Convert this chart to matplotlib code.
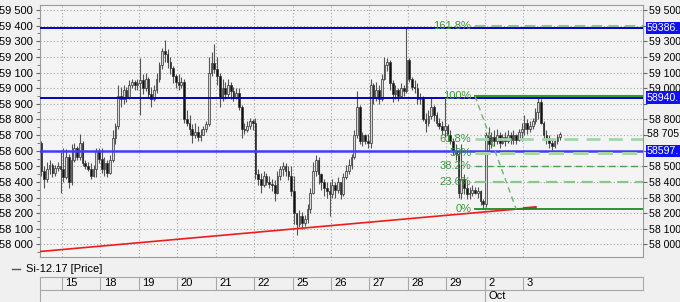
import matplotlib.pyplot as plt
import matplotlib.transforms as mtransforms
from matplotlib.lines import Line2D

plt.rcParams["font.family"] = ["Liberation Sans", "DejaVu Sans"]

# hourly bars, Si-12.17
day_labels = ["15", "18", "19", "20", "21", "22", "25", "26", "27", "28", "29", "2", "3"]
bars_per_day = [8, 14, 14, 14, 14, 14, 14, 14, 14, 14, 14, 14, 14, 14]
month_label = "Oct"
month_day = "2"

opens = [
    58650, 58470, 58420, 58480, 58510, 58460, 58490, 58500,
    58480, 58430, 58560, 58400, 58540, 58620, 58560, 58650, 58520, 58500, 58480, 58440, 58480, 58600,
    58550, 58480, 58520, 58460, 58540, 58680, 58760, 58950, 58930, 58990, 58940, 59020, 59040, 59020,
    59030, 59050, 59000, 59060, 58960, 58930, 58990, 59060, 59150, 59240, 59220, 59170, 59130, 59080,
    59040, 59020, 59040, 58800, 58780, 58740, 58700, 58720, 58690, 58700, 58740, 58770, 59100, 59160,
    59120, 59080, 58940, 59000, 58960, 59020, 58980, 58940, 58970, 58880, 58740, 58730, 58760, 58790,
    58780, 58450, 58420, 58380, 58440, 58400, 58390, 58380, 58330, 58440, 58480, 58500, 58470, 58440,
    58340, 58200, 58130, 58180, 58140, 58160, 58230, 58330, 58470, 58540, 58450, 58400, 58360, 58340,
    58320, 58380, 58350, 58400, 58320, 58430, 58470, 58510, 58560, 58700, 58880, 58660, 58700, 58660,
    58650, 59020, 58940, 58990, 58930, 59060, 59150, 59170, 59030, 58960, 58990, 58950, 59000, 58980,
    59180, 59060, 59010, 59000, 58930, 58940, 58800, 58780, 58820, 58880, 58830, 58780, 58760, 58730,
    58760, 58700, 58660, 58600, 58580, 58330, 58420, 58360, 58320, 58330, 58350, 58330, 58340, 58280,
    58260, 58700, 58640, 58690, 58660, 58700, 58650, 58690, 58660, 58700, 58670, 58700, 58670, 58720,
    58740, 58780, 58740, 58760, 58790, 58850, 58910, 58780, 58700, 58680, 58650, 58630, 58660, 58690,
]
closes = [
    58470, 58420, 58480, 58510, 58460, 58490, 58500, 58480,
    58430, 58560, 58400, 58540, 58620, 58560, 58650, 58520, 58500, 58480, 58440, 58480, 58600, 58550,
    58480, 58520, 58460, 58540, 58680, 58760, 58950, 58930, 58990, 58940, 59020, 59040, 59020, 59030,
    59050, 59000, 59060, 58960, 58930, 58990, 59060, 59150, 59240, 59220, 59170, 59130, 59080, 59040,
    59020, 59040, 58800, 58780, 58740, 58700, 58720, 58690, 58700, 58740, 58770, 59100, 59160, 59120,
    59080, 58940, 59000, 58960, 59020, 58980, 58940, 58970, 58880, 58740, 58730, 58760, 58790, 58780,
    58450, 58420, 58380, 58440, 58400, 58390, 58380, 58330, 58440, 58480, 58500, 58470, 58440, 58340,
    58200, 58130, 58180, 58140, 58160, 58230, 58330, 58470, 58540, 58450, 58400, 58360, 58340, 58320,
    58380, 58350, 58400, 58320, 58430, 58470, 58510, 58560, 58700, 58880, 58660, 58700, 58660, 58650,
    59020, 58940, 58990, 58930, 59060, 59150, 59170, 59030, 58960, 58990, 58950, 59000, 58980, 59180,
    59060, 59010, 59000, 58930, 58940, 58800, 58780, 58820, 58880, 58830, 58780, 58760, 58730, 58760,
    58700, 58660, 58600, 58580, 58330, 58420, 58360, 58320, 58330, 58350, 58330, 58340, 58280, 58260,
    58700, 58640, 58690, 58660, 58700, 58650, 58690, 58660, 58700, 58670, 58700, 58670, 58720, 58740,
    58780, 58740, 58760, 58790, 58850, 58910, 58780, 58700, 58680, 58650, 58630, 58660, 58690, 58705,
]
highs = [
    58660, 58500, 58530, 58540, 58520, 58510, 58530, 58590,
    58620, 58610, 58580, 58640, 58650, 58630, 58710, 58660, 58540, 58530, 58520, 58510, 58620, 58620,
    58620, 58560, 58540, 58570, 58730, 58780, 59020, 59010, 59020, 59010, 59050, 59060, 59050, 59060,
    59190, 59090, 59100, 59070, 59010, 59020, 59100, 59170, 59260, 59310, 59250, 59200, 59140, 59090,
    59090, 59070, 59060, 58860, 58830, 58770, 58780, 58760, 58740, 58760, 58790, 59200, 59230, 59280,
    59200, 59100, 59060, 59040, 59060, 59040, 59010, 59000, 59000, 58890, 58780, 58790, 58810, 58800,
    58810, 58480, 58460, 58470, 58460, 58440, 58420, 58410, 58470, 58500, 58530, 58520, 58500, 58500,
    58440, 58200, 58220, 58210, 58190, 58260, 58360, 58530, 58570, 58560, 58460, 58420, 58400, 58400,
    58420, 58400, 58430, 58400, 58460, 58510, 58550, 58580, 58730, 58980, 58890, 58720, 58710, 58710,
    59060, 59030, 59040, 59020, 59090, 59200, 59190, 59180, 59050, 59020, 59000, 59030, 59020, 59390,
    59190, 59070, 59050, 59030, 58970, 58950, 58840, 58860, 58940, 58890, 58850, 58810, 58790, 58940,
    58770, 58730, 58680, 58640, 58590, 58640, 58450, 58410, 58370, 58380, 58370, 58370, 58350, 58290,
    58720, 58750, 58720, 58730, 58740, 58720, 58710, 58720, 58730, 58720, 58730, 58710, 58740, 58780,
    58830, 58800, 58790, 58810, 58870, 58945, 58930, 58790, 58730, 58700, 58680, 58680, 58710, 58720,
]
lows = [
    58440, 58360, 58400, 58450, 58430, 58440, 58470, 58330,
    58400, 58420, 58360, 58380, 58530, 58540, 58540, 58500, 58480, 58470, 58420, 58430, 58430, 58520,
    58460, 58440, 58430, 58450, 58530, 58640, 58740, 58880, 58900, 58910, 58930, 59000, 58990, 58990,
    58830, 58960, 58980, 58940, 58880, 58920, 58970, 59040, 59120, 59170, 59130, 59090, 59030, 59000,
    58990, 59000, 58780, 58760, 58700, 58650, 58680, 58660, 58660, 58700, 58720, 58760, 59080, 59100,
    59020, 58880, 58920, 58930, 58940, 58930, 58920, 58930, 58860, 58680, 58710, 58720, 58740, 58730,
    58420, 58380, 58330, 58370, 58380, 58360, 58340, 58280, 58320, 58410, 58440, 58440, 58410, 58310,
    58130, 58060, 58110, 58100, 58120, 58140, 58200, 58320, 58440, 58390, 58350, 58310, 58300, 58180,
    58300, 58300, 58330, 58290, 58310, 58420, 58450, 58480, 58550, 58680, 58640, 58630, 58640, 58620,
    58620, 58900, 58920, 58900, 58920, 59050, 59110, 58990, 58910, 58930, 58920, 58940, 58950, 58970,
    59040, 58990, 58970, 58900, 58900, 58790, 58720, 58760, 58800, 58790, 58760, 58740, 58700, 58690,
    58660, 58640, 58570, 58540, 58300, 58290, 58320, 58290, 58290, 58310, 58320, 58300, 58250, 58230,
    58240, 58590, 58620, 58630, 58640, 58620, 58640, 58630, 58650, 58640, 58640, 58640, 58660, 58660,
    58700, 58710, 58720, 58740, 58770, 58800, 58770, 58670, 58640, 58620, 58605, 58620, 58640, 58670,
]

# horizontal levels (blue), trend line (red), fibonacci retracement (green)
level_prices = [59386, 58940, 58597]
level_tags = ["59386.", "58940.", "58597."]
trend_x = [-0.5, 176, 180]
trend_y = [57955, 58231, 58237]
fib_low = 58226
fib_high = 58950
fib_ratios = [0.0, 0.236, 0.382, 0.5, 0.618, 1.0, 1.618]
fib_names = ["0%", "23.6%", "38.2%", "50%", "61.8%", "100%", "161.8%"]
fib_start_bar = 158
fib_end_bar = 173
last_price = 58705
series_name = "Si-12.17 [Price]"

W, H = 680, 302
fig = plt.figure(figsize=(W / 100, H / 100), dpi=100, facecolor="#f0f0f0")
ax = fig.add_axes([40 / W, 1 - 257 / H, 603 / W, 252 / H], facecolor="#f4f4f4")

n = len(closes)
xmax = 219.2
ax.set_xlim(-0.5, xmax)
ax.set_ylim(57920, 59532)

# grid: day separators and every 100 points
bounds = []
pos = -0.5
for cnt in bars_per_day[:-1]:
    pos += cnt
    bounds.append(pos)
ax.set_xticks(bounds)
ax.set_xticklabels([])
ax.tick_params(axis="x", length=0)
yt = list(range(58000, 59501, 100))
ax.set_yticks(yt)
ax.set_yticks(list(range(57950, 59532, 50)), minor=True)
ax.set_yticklabels([f"{v // 1000} {v % 1000:03d}" for v in yt], fontsize=8)
ax.tick_params(axis="y", which="major", length=3, pad=2, color="#666")
ax.tick_params(axis="y", which="minor", length=2, color="#666")
ax.grid(True, which="major", color="#a8a8a8", linestyle=(0, (1, 2)), linewidth=0.8)
for s in ax.spines.values():
    s.set_color("#9a9a9a")
    s.set_linewidth(0.8)

# candles
for i in range(n):
    o, c, h, l = opens[i], closes[i], highs[i], lows[i]
    ax.vlines(i, l, h, color="#555555", linewidth=0.8, zorder=3)
    up = c >= o
    ax.bar(i, max(abs(c - o), 6), bottom=min(o, c), width=0.62,
           color="#d8d8d8" if up else "#111111",
           edgecolor="#333333", linewidth=0.5, zorder=4)

# blue levels
ax.axhline(level_prices[0], color="#0000c8", linewidth=1.4, zorder=5)
ax.axhline(level_prices[1], color="#0000c8", linewidth=1.4, zorder=5)
ax.axhline(level_prices[2], color="#3c3cff", linewidth=1.8, zorder=5)

# red trend
ax.plot(trend_x[:2], trend_y[:2], color="#ee1c1c", linewidth=1.2, zorder=6)
ax.plot(trend_x[1:], trend_y[1:], color="#ee1c1c", linewidth=2, zorder=6)

# fibonacci
fib_styles = {
    0.0: ("-", "#1e8a1e", 1.3),
    0.236: ((0, (5, 3)), "#8cc68c", 1.6),
    0.382: ((0, (5, 3)), "#4fa04f", 1.0),
    0.5: ((0, (5, 3)), "#a6d6a6", 2.2),
    0.618: ((0, (5, 3)), "#a6d6a6", 2.0),
    1.0: ("-", "#2e9e2e", 1.5),
    1.618: ((0, (5, 3)), "#8cc68c", 1.5),
}
for r, name in zip(fib_ratios, fib_names):
    p = fib_low + r * (fib_high - fib_low)
    ls, col, lw = fib_styles[r]
    ax.plot([fib_start_bar, xmax], [p, p], linestyle=ls, color=col, linewidth=lw, zorder=6)
    ax.text(fib_start_bar - 1.3, p, name, color="#3a9a3a", fontsize=8,
            ha="right", va="center", zorder=7)
ax.plot([fib_start_bar, fib_end_bar], [fib_high, fib_low], linestyle=(0, (4, 3)),
        color="#6ab86a", linewidth=1, zorder=6)

# right axis labels (hidden where a price tag covers them)
covered = [59400, 58900, 58700, 58600]
ax2 = ax.twinx()
ax2.set_ylim(ax.get_ylim())
ax2.set_yticks(yt)
ax2.set_yticklabels([f"{v // 1000} {v % 1000:03d}" if v not in covered else "" for v in yt],
                    fontsize=7.6)
ax2.tick_params(axis="y", length=3, pad=1.5, color="#666")
for s in ax2.spines.values():
    s.set_visible(False)

blend_y = mtransforms.blended_transform_factory(fig.transFigure, ax.transData)
for p, tag in zip(level_prices, level_tags):
    fig.text(647 / W, p, tag, transform=blend_y, color="white", fontsize=7.6,
             ha="left", va="center",
             bbox=dict(boxstyle="square,pad=0.1", facecolor="#1010f0", edgecolor="none"))
fig.text(647 / W, last_price, f"{last_price // 1000} {last_price % 1000:03d}", transform=blend_y,
         color="black", fontsize=7.6, ha="left", va="center")

# legend row
fig.add_artist(Line2D([12 / W, 20 / W], [1 - 269 / H] * 2, color="#555555", linewidth=1))
fig.text(26 / W, 1 - 269 / H, series_name, fontsize=8, va="center", ha="left")

# date strip
blend_x = mtransforms.blended_transform_factory(ax.transData, fig.transFigure)
y1, y2, y3 = 1 - 277 / H, 1 - 290 / H, 0.0
strip = "#a8a8a8"
fig.add_artist(Line2D([-0.5, xmax], [y1, y1], transform=blend_x, color=strip, linewidth=0.8))
fig.add_artist(Line2D([-0.5, xmax], [y2, y2], transform=blend_x, color=strip, linewidth=0.8))
fig.add_artist(Line2D([-0.5, -0.5], [y1, y3], transform=blend_x, color=strip, linewidth=0.8))
fig.add_artist(Line2D([xmax, xmax], [y1, y2], transform=blend_x, color=strip, linewidth=0.8))
for b, lab in zip(bounds, day_labels):
    fig.add_artist(Line2D([b, b], [y1, y2], transform=blend_x, color=strip, linewidth=0.8))
    fig.text(b + 1.3, (y1 + y2) / 2, lab, transform=blend_x, fontsize=8, va="center", ha="left")
    if lab == month_day:
        fig.add_artist(Line2D([b, b], [y2, y3], transform=blend_x, color=strip, linewidth=0.8))
        fig.text(b + 1.3, (y2 + y3) / 2, month_label, transform=blend_x, fontsize=8,
                 va="center", ha="left")

fig.savefig("out.png", dpi=100, facecolor=fig.get_facecolor())
